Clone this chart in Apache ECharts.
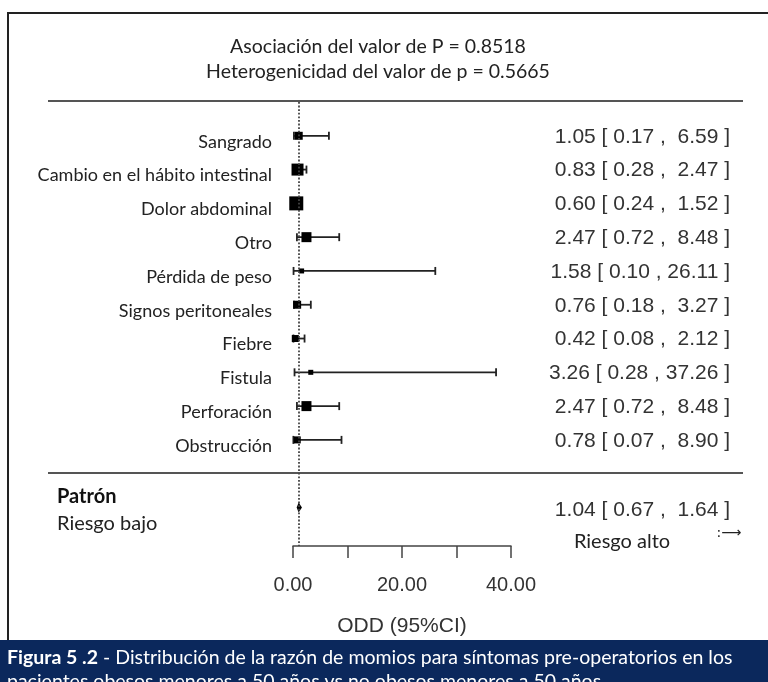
<!DOCTYPE html>
<html>
<head>
<meta charset="utf-8">
<script src="https://cdn.jsdelivr.net/npm/echarts@6/dist/echarts.min.js"></script>
<style>
  html, body { margin: 0; padding: 0; background: #fff; }
  #chart { width: 768px; height: 682px; }
</style>
</head>
<body>
<div id="chart"></div>
<script>
const labels = ['Sangrado', 'Cambio en el hábito intestinal', 'Dolor abdominal', 'Otro', 'Pérdida de peso',
  'Signos peritoneales', 'Fiebre', 'Fistula', 'Perforación', 'Obstrucción'];
const oddsRatio = [1.05, 0.83, 0.60, 2.47, 1.58, 0.76, 0.42, 3.26, 2.47, 0.78];
const lower = [0.17, 0.28, 0.24, 0.72, 0.10, 0.18, 0.08, 0.28, 0.72, 0.07];
const upper = [6.59, 2.47, 1.52, 8.48, 26.11, 3.27, 2.12, 37.26, 8.48, 8.90];
// study weights (square size)
const weights = [8, 12, 14, 10, 5, 8, 7, 5, 10, 7];
const pooled = [1.04, 0.67, 1.64];
const xTickLabels = [0, 20, 40];

const pooledRow = 11;
const textFont = 'Lato, "Open Sans", sans-serif';
const numFont = '"Liberation Sans", Arial, sans-serif';

const fmt = (or, lo, hi) =>
  `${or.toFixed(2)} [ ${lo.toFixed(2)} , ${hi < 10 ? ' ' : ''}${hi.toFixed(2)} ]`;

const chartBlock = document.getElementById('chart');

const option = {
  animation: false,
  grid: { left: 293, width: 218, top: 102, height: 444 },
  xAxis: {
    type: 'value',
    min: 0,
    max: 40,
    interval: 10,
    splitLine: { show: false },
    axisLine: { onZero: false, lineStyle: { color: '#444', width: 1.5 } },
    axisTick: { length: 12, lineStyle: { color: '#444', width: 1.5 } },
    axisLabel: {
      margin: 29,
      color: '#333',
      fontFamily: numFont,
      fontSize: 20,
      formatter: (v) => (xTickLabels.includes(v) ? v.toFixed(2) : ''),
    },
    name: 'ODD (95%CI)',
    nameLocation: 'middle',
    nameGap: 70,
    nameTextStyle: { color: '#333', fontFamily: numFont, fontSize: 21 },
  },
  yAxis: {
    type: 'value',
    min: -1,
    max: 12.14,
    inverse: true,
    show: false,
  },
  series: [
    {
      name: 'IC',
      type: 'custom',
      silent: true,
      data: labels.map((_, i) => [lower[i], upper[i], i]),
      renderItem: (params, api) => {
        const row = api.value(2);
        const a = api.coord([api.value(0), row]);
        const b = api.coord([api.value(1), row]);
        const style = { stroke: '#222', lineWidth: 1.8 };
        return {
          type: 'group',
          children: [
            { type: 'line', shape: { x1: a[0], y1: a[1], x2: b[0], y2: b[1] }, style },
            { type: 'line', shape: { x1: a[0], y1: a[1] - 4, x2: a[0], y2: a[1] + 4 }, style },
            { type: 'line', shape: { x1: b[0], y1: b[1] - 4, x2: b[0], y2: b[1] + 4 }, style },
          ],
        };
      },
    },
    {
      name: 'OR',
      type: 'scatter',
      symbol: 'rect',
      silent: true,
      symbolSize: (val) => val[2],
      itemStyle: { color: '#000', opacity: 1 },
      data: oddsRatio.map((v, i) => [v, i, weights[i]]),
      z: 3,
      markLine: {
        silent: true,
        symbol: 'none',
        label: { show: false },
        lineStyle: { type: 'dotted', color: '#444', width: 1.8 },
        data: [{ xAxis: 1 }],
      },
    },
    {
      name: 'Patrón',
      type: 'custom',
      silent: true,
      data: [[pooled[0], pooled[1], pooled[2], pooledRow]],
      renderItem: (params, api) => {
        const row = api.value(3);
        const c = api.coord([api.value(0), row]);
        const l = api.coord([api.value(1), row]);
        const r = api.coord([api.value(2), row]);
        return {
          type: 'polygon',
          shape: { points: [[l[0], c[1]], [c[0], c[1] - 5], [r[0], c[1]], [c[0], c[1] + 5]] },
          style: { fill: '#000' },
          z2: 5,
        };
      },
    },
    {
      name: 'textos',
      type: 'custom',
      silent: true,
      data: labels.map((_, i) => [oddsRatio[i], lower[i], upper[i], i]),
      renderItem: (params, api) => {
        const i = api.value(3);
        const y = api.coord([0, i])[1];
        const cs = params.coordSys;
        return {
          type: 'group',
          children: [
            {
              type: 'text',
              x: cs.x - 21,
              y: y + 6,
              style: {
                text: labels[i], align: 'right', verticalAlign: 'middle',
                font: `18px ${textFont}`, fill: '#222',
              },
            },
            {
              type: 'text',
              x: cs.x + cs.width + 219,
              y: y + 1,
              style: {
                text: fmt(api.value(0), api.value(1), api.value(2)), align: 'right', verticalAlign: 'middle',
                font: `21px ${numFont}`, fill: '#333',
              },
            },
          ],
        };
      },
    },
    {
      name: 'texto patrón',
      type: 'custom',
      silent: true,
      data: [[pooled[0], pooled[1], pooled[2], pooledRow]],
      renderItem: (params, api) => {
        const y = api.coord([0, api.value(3)])[1];
        const cs = params.coordSys;
        return {
          type: 'text',
          x: cs.x + cs.width + 219,
          y: y + 3,
          style: {
            text: fmt(api.value(0), api.value(1), api.value(2)), align: 'right', verticalAlign: 'middle',
            font: `21px ${numFont}`, fill: '#333',
          },
        };
      },
    },
  ],
  graphic: [
    { type: 'polyline', shape: { points: [[8, 682], [8, 13], [768, 13]] }, style: { stroke: '#222', lineWidth: 2, fill: null } },
    { type: 'line', shape: { x1: 48, y1: 101, x2: 743, y2: 101 }, style: { stroke: '#555', lineWidth: 2 } },
    { type: 'line', shape: { x1: 48, y1: 473, x2: 743, y2: 473 }, style: { stroke: '#555', lineWidth: 2 } },
    {
      type: 'text', x: 378, y: 47,
      style: { text: 'Asociación del valor de P = 0.8518', align: 'center', verticalAlign: 'middle', font: `19.5px ${textFont}`, fill: '#222' },
    },
    {
      type: 'text', x: 378, y: 72,
      style: { text: 'Heterogenicidad del valor de p = 0.5665', align: 'center', verticalAlign: 'middle', font: `19.5px ${textFont}`, fill: '#222' },
    },
    {
      type: 'text', x: 57, y: 497,
      style: { text: 'Patrón', verticalAlign: 'middle', font: `bold 20px ${textFont}`, fill: '#111' },
    },
    {
      type: 'text', x: 57, y: 524,
      style: { text: 'Riesgo bajo', verticalAlign: 'middle', font: `20px ${textFont}`, fill: '#222' },
    },
    {
      type: 'text', x: 622, y: 542,
      style: { text: 'Riesgo alto', align: 'center', verticalAlign: 'middle', font: `20px ${textFont}`, fill: '#222' },
    },
    {
      type: 'text', x: 729, y: 533,
      style: { text: ':⟶', align: 'center', verticalAlign: 'middle', font: `14px "DejaVu Sans", sans-serif`, fill: '#222' },
    },
    { type: 'rect', shape: { x: 0, y: 640, width: 768, height: 42 }, style: { fill: '#0b285c' } },
    {
      type: 'text', x: 7, y: 646,
      style: {
        text: '{b|Figura 5 .2} - Distribución de la razón de momios para síntomas pre-operatorios en los\npacientes obesos menores a 50 años vs no obesos menores a 50 años.',
        font: `19.5px ${textFont}`,
        fill: '#fff',
        lineHeight: 24,
        rich: { b: { fontWeight: 'bold', fontFamily: textFont, fontSize: 19.5, fill: '#fff' } },
      },
    },
  ],
};

echarts.init(chartBlock, null, { renderer: 'canvas' }).setOption(option);
</script>
</body>
</html>
